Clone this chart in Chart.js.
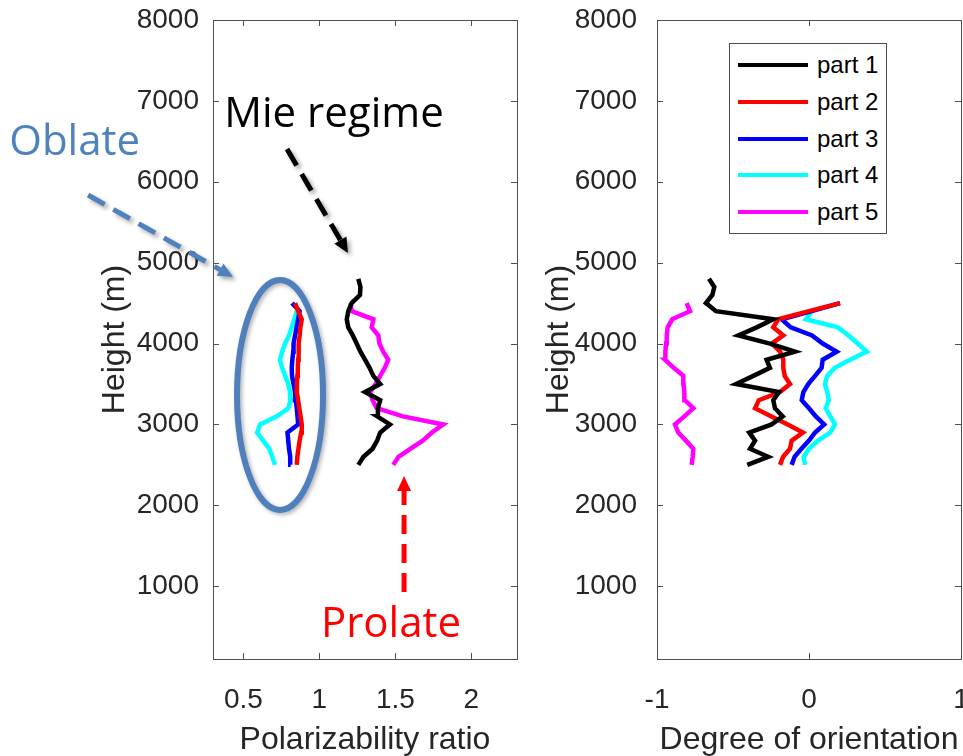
<!DOCTYPE html>
<html>
<head>
<meta charset="utf-8">
<script src="https://cdn.jsdelivr.net/npm/chart.js@4.4.1/dist/chart.umd.min.js"></script>
<style>
html,body{margin:0;padding:0;background:#fff;}
#wrap{position:relative;width:963px;height:756px;overflow:hidden;}
canvas{position:absolute;top:0;}
#c1{left:0;}
#c2{left:520px;}
#legend{position:absolute;left:729px;top:43px;width:156px;height:189px;border:1px solid #4d4d4d;background:#fff;
  font:24px "Liberation Sans",Arial,sans-serif;color:#000;}
.row{position:absolute;left:0;height:36px;display:flex;align-items:center;}
.sw{width:70px;height:4px;margin-left:8px;margin-right:9px;}
</style>
</head>
<body>
<div id="wrap">
  <canvas id="c1" width="540" height="756"></canvas>
  <canvas id="c2" width="443" height="756"></canvas>
  <div id="legend"></div>
</div>
<script>
// heights (m), bottom to top
const heights = [2500,2600,2700,2800,2900,3000,3100,3200,3300,3400,3500,3600,3700,3800,3900,4000,4100,4200,4300,4400,4500,4600,4700,4800];

const partNames = ['part 1','part 2','part 3','part 4','part 5'];
const partColors = ['#000000','#ff0000','#0000ff','#00ffff','#ff00ff'];

// polarizability ratio
const polPart1 = [1.256,1.29,1.35,1.38,1.40,1.464,1.38,1.385,1.40,1.30,1.40,1.355,1.33,1.30,1.27,1.245,1.22,1.19,1.18,1.19,1.212,1.267,1.27,1.256];
const polPart2 = [0.851,0.855,0.862,0.87,0.88,0.884,0.876,0.868,0.86,0.851,0.852,0.855,0.858,0.86,0.862,0.865,0.87,0.875,0.884,0.86,0.84];
const polPart3 = [0.811,0.808,0.80,0.795,0.79,0.86,0.856,0.851,0.845,0.84,0.83,0.82,0.818,0.822,0.828,0.83,0.84,0.85,0.86,0.87,0.82];
const polPart4 = [0.708,0.69,0.67,0.63,0.59,0.61,0.72,0.795,0.81,0.807,0.795,0.775,0.755,0.741,0.755,0.774,0.80,0.818,0.835,0.851];
const polPart5 = [1.486,1.52,1.60,1.68,1.74,1.815,1.55,1.377,1.35,1.333,1.37,1.40,1.43,1.453,1.42,1.395,1.388,1.344,1.355,1.212,1.206];

// degree of orientation
const dorPart1 = [-0.406,-0.268,-0.388,-0.355,-0.393,-0.246,-0.173,-0.224,-0.235,-0.197,-0.48,-0.366,-0.257,-0.279,-0.092,-0.257,-0.465,-0.344,-0.235,-0.612,-0.678,-0.636,-0.623,-0.658];
const dorPart2 = [-0.191,-0.17,-0.125,-0.114,-0.04,-0.14,-0.25,-0.355,-0.33,-0.191,-0.125,-0.16,-0.169,-0.169,-0.19,-0.245,-0.169,-0.235,-0.202,0.0,0.204];
const dorPart3 = [-0.114,-0.095,-0.05,0.0,0.04,0.10,0.045,0.0,-0.048,-0.037,-0.005,0.04,0.083,0.09,0.182,0.09,0.02,-0.12,-0.18,0.018,0.204];
const dorPart4 = [-0.026,-0.035,0.0,0.06,0.14,0.171,0.14,0.11,0.13,0.12,0.105,0.12,0.17,0.27,0.38,0.32,0.26,0.19,-0.02,0.018];
const dorPart5 = [-0.772,-0.765,-0.761,-0.81,-0.86,-0.882,-0.82,-0.761,-0.816,-0.82,-0.825,-0.827,-0.89,-0.947,-0.945,-0.94,-0.936,-0.93,-0.90,-0.783,-0.805];

// tick labels
const yTicks = [1000,2000,3000,4000,5000,6000,7000,8000];
const polTicks = [0.5,1,1.5,2];
const dorTicks = [-1,0,1];

// annotations on the left panel, in data units
const notes = [
  {text:'Oblate', x:-0.61, y:6330, color:'#4f81bd'},
  {text:'Mie regime', x:1.096, y:6680, color:'#000000'},
  {text:'Prolate', x:1.471, y:372, color:'#ff0000'}
];
const arrows = [
  {from:[-0.522,5836], to:[0.432,4823], color:'#4f81bd', shadow:true},
  {from:[0.787,6405], to:[1.188,5119], color:'#000000', shadow:true},
  {from:[1.557,928], to:[1.557,2362], color:'#ff0000', shadow:false}
];
const ring = {x:0.741, y:3364, rx:0.283, ry:1422, color:'#4f7fbd'};

const tickFont = {family:'"Liberation Sans", Arial, sans-serif', size:28};
const titleFont = {family:'"Liberation Sans", Arial, sans-serif', size:32};
const textCol = '#262626';

function series(vals){
  return vals.map(function(v,i){ return {x:v, y:heights[i]}; });
}
function makeSets(list){
  return list.map(function(vals,i){
    return {label:partNames[i], data:series(vals), borderColor:partColors[i], backgroundColor:partColors[i],
      borderWidth:4.5, pointRadius:0, showLine:true, tension:0, fill:false};
  });
}

// MATLAB-like box with inward ticks
const boxTicks = {
  id:'boxTicks',
  afterDraw(chart){
    const {ctx, chartArea:a, scales} = chart;
    ctx.save();
    ctx.strokeStyle = '#505050';
    ctx.lineWidth = 1;
    ctx.strokeRect(Math.round(a.left)+0.5, Math.round(a.top)+0.5, Math.round(a.width), Math.round(a.height));
    ctx.beginPath();
    scales.x.ticks.forEach(function(t){
      const p = Math.round(scales.x.getPixelForValue(t.value))+0.5;
      ctx.moveTo(p,a.bottom); ctx.lineTo(p,a.bottom-6);
      ctx.moveTo(p,a.top); ctx.lineTo(p,a.top+6);
    });
    scales.y.ticks.forEach(function(t){
      const p = Math.round(scales.y.getPixelForValue(t.value))+0.5;
      ctx.moveTo(a.left,p); ctx.lineTo(a.left+6,p);
      ctx.moveTo(a.right,p); ctx.lineTo(a.right-6,p);
    });
    ctx.stroke();
    ctx.restore();
  }
};

function drawArrow(ctx, x1, y1, x2, y2, color, shadow){
  const ang = Math.atan2(y2-y1, x2-x1);
  const head = 15, half = 7;
  const bx = x2 - head*Math.cos(ang), by = y2 - head*Math.sin(ang);
  ctx.save();
  if (shadow){
    ctx.shadowColor = 'rgba(0,0,0,0.35)';
    ctx.shadowBlur = 4; ctx.shadowOffsetX = 3; ctx.shadowOffsetY = 3;
  }
  ctx.strokeStyle = color; ctx.fillStyle = color;
  ctx.lineWidth = 5;
  ctx.setLineDash([19,10]);
  ctx.beginPath(); ctx.moveTo(x1,y1); ctx.lineTo(bx,by); ctx.stroke();
  ctx.setLineDash([]);
  ctx.beginPath();
  ctx.moveTo(x2,y2);
  ctx.lineTo(bx + half*Math.sin(ang), by - half*Math.cos(ang));
  ctx.lineTo(bx - half*Math.sin(ang), by + half*Math.cos(ang));
  ctx.closePath(); ctx.fill();
  ctx.restore();
}

const notesPlugin = {
  id:'notes',
  afterDraw(chart){
    const ctx = chart.ctx, sx = chart.scales.x, sy = chart.scales.y;
    // ellipse round the oblate group
    const cx = sx.getPixelForValue(ring.x), cy = sy.getPixelForValue(ring.y);
    const rx = Math.abs(sx.getPixelForValue(ring.x+ring.rx)-cx);
    const ry = Math.abs(sy.getPixelForValue(ring.y+ring.ry)-cy);
    ctx.save();
    ctx.shadowColor = 'rgba(0,0,0,0.3)'; ctx.shadowBlur = 4; ctx.shadowOffsetX = 2; ctx.shadowOffsetY = 2;
    ctx.strokeStyle = ring.color; ctx.lineWidth = 6;
    ctx.beginPath(); ctx.ellipse(cx, cy, rx, ry, 0, 0, Math.PI*2); ctx.stroke();
    ctx.restore();
    arrows.forEach(function(a){
      drawArrow(ctx, sx.getPixelForValue(a.from[0]), sy.getPixelForValue(a.from[1]),
        sx.getPixelForValue(a.to[0]), sy.getPixelForValue(a.to[1]), a.color, a.shadow);
    });
    ctx.save();
    ctx.font = '42px "Open Sans", "Noto Sans", sans-serif';
    ctx.textAlign = 'center'; ctx.textBaseline = 'alphabetic';
    notes.forEach(function(n){
      ctx.fillStyle = n.color;
      ctx.fillText(n.text, sx.getPixelForValue(n.x), sy.getPixelForValue(n.y));
    });
    ctx.restore();
  }
};

function plainLabel(v){ return String(v); }

function makeOptions(xMin, xMax, xTickList, xTitle, yWidth, yTitlePad, yTickPad, padRight){
  return {
    responsive:false, animation:false,
    layout:{padding:{left:0, top:20, right:padRight, bottom:0}},
    plugins:{legend:{display:false}, tooltip:{enabled:false}},
    scales:{
      x:{type:'linear', min:xMin, max:xMax,
        grid:{display:false, drawTicks:false}, border:{display:false},
        afterBuildTicks:function(s){ s.ticks = xTickList.map(function(v){ return {value:v}; }); },
        afterFit:function(s){ s.height = 97; s.paddingLeft = 0; s.paddingRight = 0; },
        ticks:{font:tickFont, color:textCol, padding:24, maxRotation:0, callback:plainLabel},
        title:{display:true, text:xTitle, font:titleFont, color:textCol, padding:{top:0,bottom:-3}}
      },
      y:{type:'linear', min:100, max:8000,
        grid:{display:false, drawTicks:false}, border:{display:false},
        afterBuildTicks:function(s){ s.ticks = yTicks.map(function(v){ return {value:v}; }); },
        afterFit:function(s){ s.width = yWidth; s.paddingTop = 0; s.paddingBottom = 0; },
        ticks:{font:tickFont, color:textCol, padding:yTickPad, callback:plainLabel},
        title:{display:true, text:'Height (m)', font:titleFont, color:textCol, padding:{top:yTitlePad,bottom:0}}
      }
    }
  };
}

const chartPol = new Chart(document.getElementById('c1'), {
  type:'scatter',
  data:{datasets:makeSets([polPart1,polPart2,polPart3,polPart4,polPart5])},
  options:makeOptions(0.3, 2.3, polTicks, 'Polarizability ratio', 213, 96, 14, 23),
  plugins:[boxTicks, notesPlugin]
});

const chartDor = new Chart(document.getElementById('c2'), {
  type:'scatter',
  data:{datasets:makeSets([dorPart1,dorPart2,dorPart3,dorPart4,dorPart5])},
  options:makeOptions(-1, 1, dorTicks, 'Degree of orientation', 137, 20, 20, 2),
  plugins:[boxTicks]
});

// legend box built from the datasets
const legend = document.getElementById('legend');
chartDor.data.datasets.forEach(function(ds, i){
  const row = document.createElement('div');
  row.className = 'row';
  row.style.top = (3 + i*36.8) + 'px';
  row.innerHTML = '<span class="sw" style="background:' + ds.borderColor + '"></span><span>' + ds.label + '</span>';
  legend.appendChild(row);
});
</script>
</body>
</html>
